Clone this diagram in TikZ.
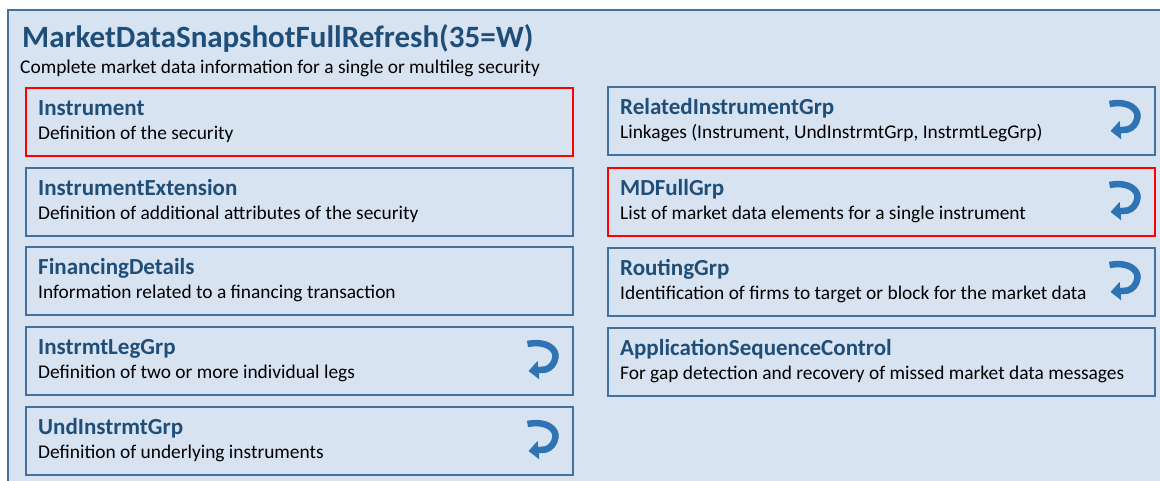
\documentclass[tikz,border=0pt]{standalone}
\usepackage{fontspec}
\setmainfont{Carlito}
\usetikzlibrary{arrows.meta}
\definecolor{fixfill}{HTML}{D7E3F1}
\definecolor{boxblue}{HTML}{41719C}
\definecolor{headblue}{HTML}{1F4E79}
\definecolor{iconblue}{HTML}{2E74B5}
\tikzset{
    fixbox/.style={draw=boxblue, fill=fixfill, line width=1.5pt, anchor=north west, minimum width=547pt, minimum height=68pt, inner sep=0pt}, % component block
    grphead/.style={anchor=base west, inner sep=0pt, text=headblue, font=\fontsize{23}{27}\selectfont\bfseries}, % block name
    grpdesc/.style={anchor=base west, inner sep=0pt, font=\fontsize{19.4}{23}\selectfont}, % block text
    grparrow/.style={iconblue, line width=6.5pt, -{Triangle[length=10pt, width=18pt]}} % repeating group sign
}

\begin{document}
\begin{tikzpicture}[x=1pt, y=-1pt]
    \clip (0,0) rectangle (1160,480);
    \draw[boxblue, line width=2pt, fill=fixfill] (8,10) rectangle (1175,495);

    \node[anchor=base west, inner sep=0pt, text=headblue, font=\fontsize{31}{37}\selectfont\bfseries] (msg) at (22,47) {MarketDataSnapshotFullRefresh(35=W)};
    \node[grpdesc] (msgdesc) at (20,73) {Complete market data information for a single or multileg security};

    \foreach \n/\x/\y/\bc/\hd/\ds in {
        instr/25/87/red/Instrument/{Definition of the security},
        instrext/25/167/boxblue/InstrumentExtension/{Definition of additional attributes of the security},
        fin/25/246/boxblue/FinancingDetails/{Information related to a financing transaction},
        leg/25/326/boxblue/InstrmtLegGrp/{Definition of two or more individual legs},
        und/25/406/boxblue/UndInstrmtGrp/{Definition of underlying instruments},
        relinst/607/86/boxblue/RelatedInstrumentGrp/{Linkages (Instrument, UndInstrmtGrp, InstrmtLegGrp)},
        mdfull/607/167/red/MDFullGrp/{List of market data elements for a single instrument},
        routing/607/247/boxblue/RoutingGrp/{Identification of firms to target or block for the market data},
        appseq/607/327/boxblue/ApplicationSequenceControl/{For gap detection and recovery of missed market data messages}}{
        \node[fixbox, draw=\bc] (\n) at (\x,\y) {};
        \node[grphead] (\n-hd) at ([shift={(13,28)}]\n.north west) {\hd};
        \node[grpdesc] (\n-ds) at ([shift={(13,52)}]\n.north west) {\ds};
    }

    \foreach \n in {relinst,mdfull,routing,leg,und} {
        \begin{scope}[shift={(\n.north east)}]
            \draw[grparrow] (-46,18) .. controls (-26,14) and (-17,24) .. (-18,31) .. controls (-19,38) and (-23,42) .. (-28,43.5) -- (-45,45);
        \end{scope}
    }
\end{tikzpicture}
\end{document}
